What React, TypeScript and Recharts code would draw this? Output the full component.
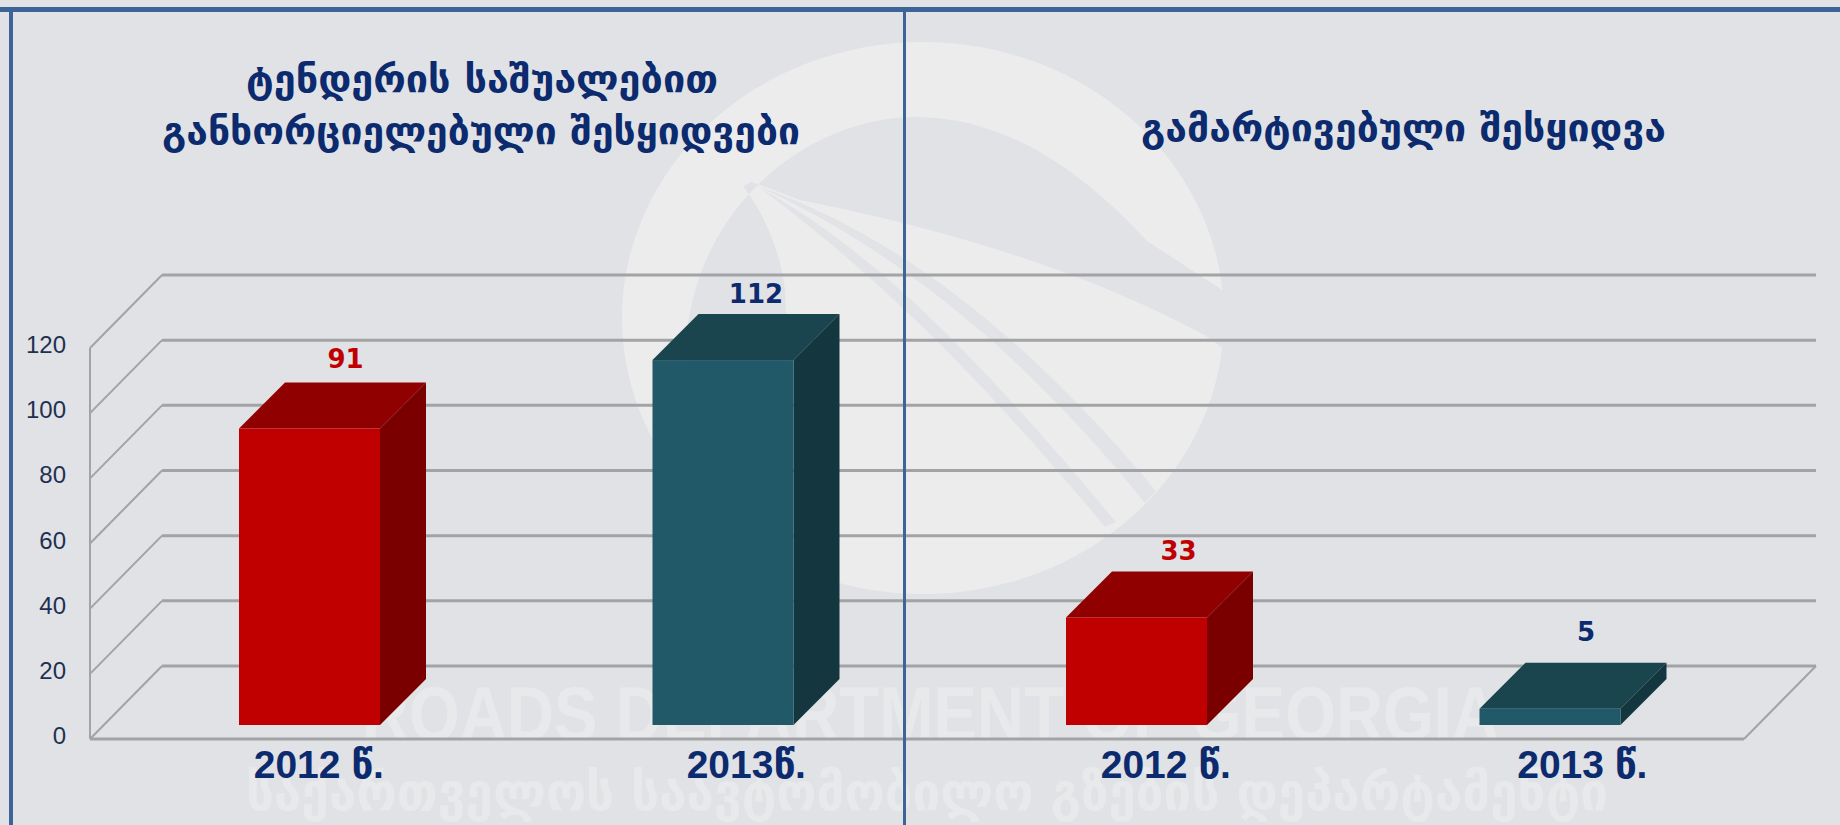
import React from "react";
import { BarChart, Bar, XAxis, YAxis, CartesianGrid, LabelList } from "recharts";

const categories = ["2012 წ.", "2013წ.", "2012 წ.", "2013 წ."];
const purchases = [91, 112, 33, 5];
const seriesKinds = ["red", "teal", "red", "teal"];
const yTicks = [0, 20, 40, 60, 80, 100, 120];
const leftTitle = ["ტენდერის საშუალებით", "განხორციელებული შესყიდვები"];
const rightTitle = "გამარტივებული შესყიდვა";

const chartData = categories.map((category, i) => ({
  category,
  value: purchases[i],
  kind: seriesKinds[i],
}));

const W = 1840;
const H = 825;
const BG = "#e0e2e6";
const MARK = "#ececed";
const BLUE = "#3c6496";
const NAVY = "#0c2a6e";
const RED = "#c00000";
const GRID = "#a2a3a5";
const FLOOR_Y = 739;
const WALL_DX = 72;
const WALL_DY = 73;
const BAR_DX = 13;
const BAR_LIFT = 14;
const DEPTH = 46;
const TICK_NUDGE = [22, 36, 42, 45];
const LABEL_NUDGE: number[][] = [[36, 24], [33, 20], [42, 21], [36, 31]];
const PALETTE: Record<string, string[]> = {
  red: ["#c00000", "#900000", "#7a0000"],
  teal: ["#215968", "#1a444e", "#14363f"],
};

const Cuboid = (props: any) => {
  const { x, y, width, height, payload } = props;
  const [front, top, side] = PALETTE[payload.kind];
  const l = x + BAR_DX;
  const t = y - BAR_LIFT;
  const r = l + width;
  const b = t + height;
  return (
    <g>
      <path d={`M${l},${t}L${l + DEPTH},${t - DEPTH}L${r + DEPTH},${t - DEPTH}L${r},${t}Z`} fill={top} />
      <path d={`M${r},${t}L${r + DEPTH},${t - DEPTH}L${r + DEPTH},${b - DEPTH}L${r},${b}Z`} fill={side} />
      <rect x={l} y={t} width={width} height={height} fill={front} />
    </g>
  );
};

const gridLine = (props: any) => {
  const { x1, x2, y1, key } = props;
  const isFloor = Math.abs(y1 - FLOOR_Y) < 1;
  return (
    <g key={key ?? y1} fill="none" stroke={GRID}>
      <path d={`M${x1},${y1}L${x1 + WALL_DX},${y1 - WALL_DY}`} strokeWidth={2} />
      <path d={`M${x1 + WALL_DX},${y1 - WALL_DY}L${x2 + WALL_DX},${y1 - WALL_DY}`} strokeWidth={3} />
      {isFloor && <path d={`M${x2},${y1}L${x2 + WALL_DX},${y1 - WALL_DY}`} strokeWidth={2} />}
    </g>
  );
};

const CategoryTick = (props: any) => {
  const { x, y, payload, index } = props;
  return (
    <text
      x={x + TICK_NUDGE[index]}
      y={y + 31}
      textAnchor="middle"
      fill={NAVY}
      fontFamily="'Liberation Sans','DejaVu Sans',sans-serif"
      fontWeight={700}
      fontSize={39}
    >
      {payload.value}
    </text>
  );
};

const AmountTick = (props: any) => {
  const { x, y, payload } = props;
  return (
    <text
      x={x}
      y={y - 3.5}
      dy="0.36em"
      textAnchor="end"
      fill="#1f3050"
      fontFamily="'Liberation Sans',sans-serif"
      fontSize={24}
    >
      {payload.value}
    </text>
  );
};

const ValueLabel = (props: any) => {
  const { x, y, value, index } = props;
  const barWidth = props.width;
  const [nx, ny] = LABEL_NUDGE[index];
  const cx = x + BAR_DX + barWidth / 2 + nx;
  const cy = y - BAR_LIFT - DEPTH - ny;
  return (
    <text
      x={cx}
      y={cy}
      dy="0.36em"
      textAnchor="middle"
      fill={seriesKinds[index] === "red" ? RED : NAVY}
      fontFamily="'DejaVu Sans',sans-serif"
      fontWeight={700}
      fontSize={26}
    >
      {value}
    </text>
  );
};

const Watermark = () => (
  <svg width={W} height={H} style={{ position: "absolute", left: 0, top: 0 }}>
    <ellipse cx={923} cy={318} rx={301} ry={276} fill={MARK} />
    <path
      d="M686,360C684,220 800,117 916,117C1020,117 1100,190 1147,241L1227,293L1223,348L1206,336C1120,290 1000,240 800,200L752,182L743,186C765,215 780,250 785,290L790,400Z"
      fill={BG}
    />
    <path d="M755,185C900,235 1030,340 1156,491L1145,503C1030,360 900,250 755,185Z" fill="#e2e3e6" />
    <path d="M760,188C880,255 980,360 1116,522L1105,527C975,370 870,270 760,188Z" fill="#e2e3e6" />
    <text x={362} y={740} fontFamily="'Liberation Sans',sans-serif" fontWeight={700} fontSize={76} fill="#e8e9eb" textLength={1137} lengthAdjust="spacingAndGlyphs">
      ROADS DEPARTMENT OF GEORGIA
    </text>
    <text x={246} y={810} fontFamily="'DejaVu Sans',sans-serif" fontWeight={700} fontSize={52} fill="#e8e9eb" textLength={1362} lengthAdjust="spacingAndGlyphs">
      საქართველოს საავტომობილო გზების დეპარტამენტი
    </text>
  </svg>
);

const Overlay = () => {
  const titleProps = {
    fontFamily: "'DejaVu Sans',sans-serif",
    fontWeight: 700,
    fontSize: 37,
    fill: NAVY,
    lengthAdjust: "spacingAndGlyphs",
  } as const;
  return (
    <svg width={W} height={H} style={{ position: "absolute", left: 0, top: 0 }}>
      <rect x={0} y={7} width={W} height={5} fill={BLUE} />
      <rect x={9} y={7} width={4} height={H} fill={BLUE} />
      <rect x={903} y={10} width={3} height={H} fill={BLUE} />
      <text x={246} y={92} textLength={472} {...titleProps}>{leftTitle[0]}</text>
      <text x={162} y={144} textLength={638} {...titleProps}>{leftTitle[1]}</text>
      <text x={1141} y={141} textLength={525} {...titleProps}>{rightTitle}</text>
    </svg>
  );
};

export default function App() {
  return (
    <div style={{ position: "absolute", left: 0, top: 0, width: W, height: H, overflow: "hidden", background: BG }}>
      <Watermark />
      <div style={{ position: "absolute", left: 0, top: 0 }}>
        <BarChart
          width={W}
          height={H}
          data={chartData}
          margin={{ top: 348, left: 20, right: 96, bottom: 26 }}
          barCategoryGap={0}
          barSize={141}
        >
          <CartesianGrid vertical={false} horizontal={gridLine} />
          <XAxis
            dataKey="category"
            axisLine={{ stroke: GRID, strokeWidth: 3 }}
            tickLine={false}
            height={60}
            tick={<CategoryTick />}
            interval={0}
          />
          <YAxis
            width={70}
            domain={[0, 120]}
            ticks={yTicks}
            axisLine={{ stroke: GRID, strokeWidth: 2 }}
            tickLine={false}
            tickSize={0}
            tickMargin={24}
            tick={<AmountTick />}
          />
          <Bar dataKey="value" isAnimationActive={false} shape={<Cuboid />}>
            <LabelList dataKey="value" content={<ValueLabel />} />
          </Bar>
        </BarChart>
      </div>
      <Overlay />
    </div>
  );
}
